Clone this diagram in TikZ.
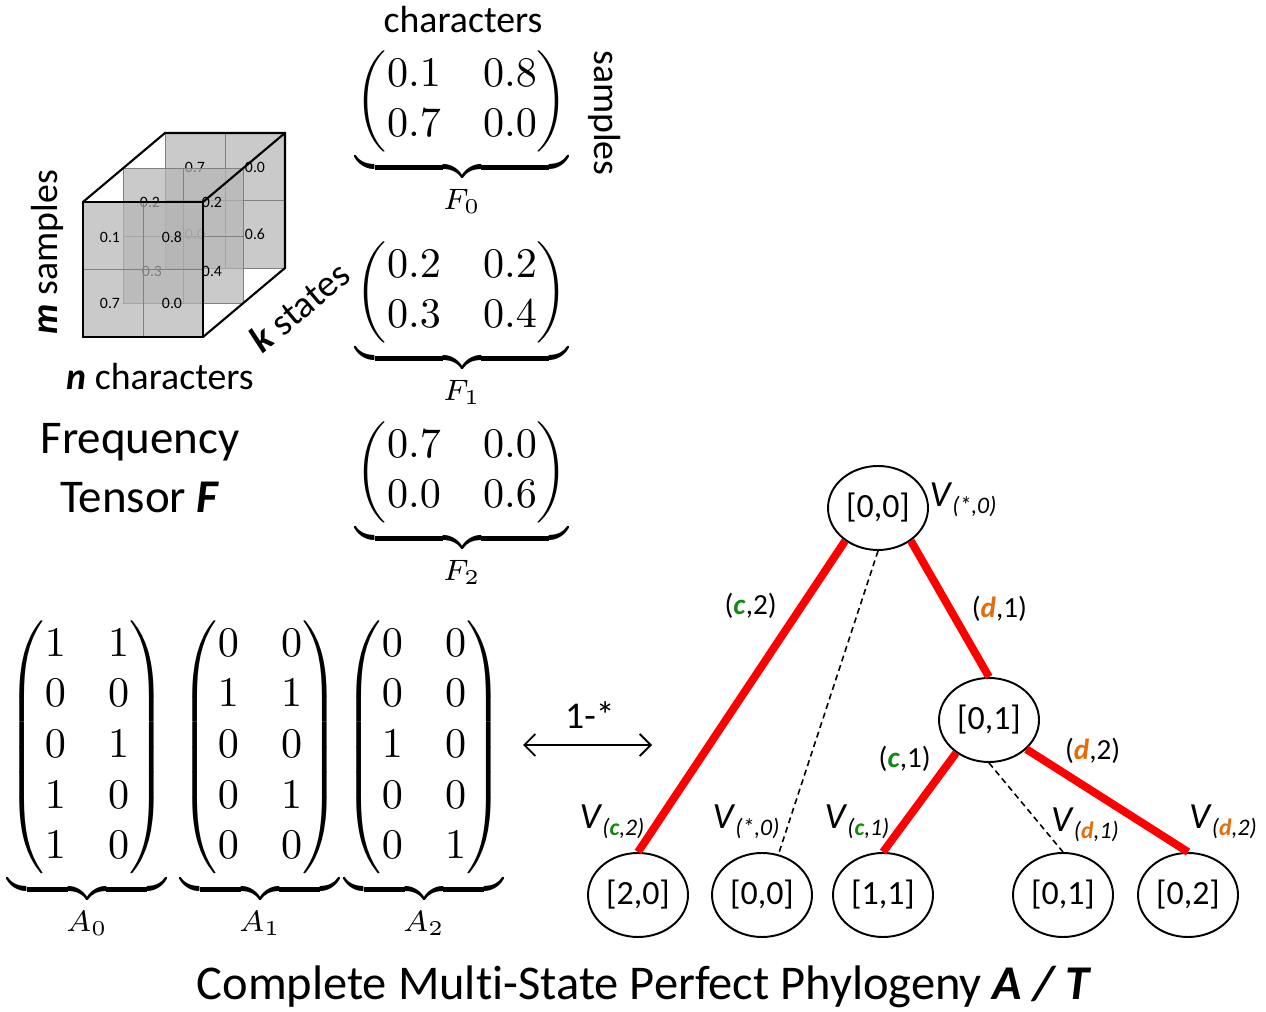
\documentclass[tikz,border=0pt]{standalone}
\usepackage{amsmath}
\usepackage[no-math]{fontspec}
\setmainfont[Ligatures=NoCommon]{Carlito}
\usepackage{tikz}
\usetikzlibrary{arrows.meta,positioning,shapes.geometric}
\definecolor{cgreen}{HTML}{138A13}
\definecolor{dorange}{HTML}{E46C0A}
\definecolor{facegray}{HTML}{B4B4B4}
\newcommand{\fs}[1]{\fontsize{#1}{#1}\selectfont}
\newcommand{\symc}{\textcolor{cgreen}{\textbf{\textit{c}}}}
\newcommand{\symd}{\textcolor{dorange}{\textbf{\textit{d}}}}
\newcommand{\vsub}[1]{\textit{V}\raisebox{-4pt}{\fs{13.5}\itshape(#1)}}

\begin{document}
\begin{tikzpicture}[
    state/.style={draw, ellipse, line width=1.1pt, minimum width=2cm, minimum height=1.68cm, inner sep=0pt, font=\fs{19.3}},
    tree/.style={draw=red, line width=4.5pt},
    skip/.style={draw, line width=0.9pt, dash pattern=on 3.4pt off 2.3pt},
    elab/.style={inner sep=0pt, font=\fs{16.6}},
    vlab/.style={inner sep=0pt, font=\fs{21}},
    mat/.style={scale=2.4, inner sep=0pt},
    face/.style={draw=gray, fill=facegray, fill opacity=0.7, line width=0.5pt},
    cell/.style={draw=gray, line width=0.5pt},
    num/.style={inner sep=0pt, font=\fs{9}},
    wire/.style={draw, line width=1.2pt},
    lbl/.style={inner sep=0pt, font=\fs{21.5}}
]
    \useasboundingbox (0,0) rectangle (25.32,20.24);

    % Tensor cube: back layer F2
    \draw[face] (3.3,14.88) rectangle (5.7,17.58);
    \draw[cell] (4.5,14.88) -- (4.5,17.58) (3.3,16.23) -- (5.7,16.23);
    \node[num] (b11) at (3.9,16.9) {0.7};
    \node[num] (b12) at (5.1,16.9) {0.0};
    \node[num] (b21) at (3.9,15.56) {0.0};
    \node[num] (b22) at (5.1,15.56) {0.6};

    % middle layer F1
    \draw[face] (2.46,14.17) rectangle (4.86,16.87);
    \draw[cell] (3.66,14.17) -- (3.66,16.87) (2.46,15.52) -- (4.86,15.52);
    \node[num] (m11) at (3.0,16.2) {0.2};
    \node[num] (m12) at (4.24,16.2) {0.2};
    \node[num] (m21) at (3.04,14.82) {0.3};
    \node[num] (m22) at (4.24,14.82) {0.4};

    % front layer F0
    \draw[face] (1.66,13.5) rectangle (4.06,16.2);
    \draw[cell] (2.86,13.5) -- (2.86,16.2) (1.66,14.85) -- (4.06,14.85);
    \node[num] (f11) at (2.2,15.5) {0.1};
    \node[num] (f12) at (3.44,15.5) {0.8};
    \node[num] (f21) at (2.2,14.17) {0.7};
    \node[num] (f22) at (3.44,14.17) {0.0};

    % cube edges
    \draw[wire] (1.66,13.5) rectangle (4.06,16.2);
    \draw[wire] (1.66,16.2) -- (3.3,17.58) -- (5.7,17.58) -- (5.7,14.88) -- (4.06,13.5);
    \draw[wire] (4.06,16.2) -- (5.7,17.58);

    % Cube labels
    \node[lbl, rotate=90] (msamp) at (0.94,15.2) {\textbf{\textit{m}} samples};
    \node[lbl] (nchar) at (3.2,12.7) {\textbf{\textit{n}} characters};
    \node[lbl, rotate=40] (kstat) at (5.98,14.1) {\textbf{\textit{k}} states};
    \node[inner sep=0pt, font=\fs{26.7}] (freq) at (2.8,11.4) {Frequency};
    \node[inner sep=0pt, font=\fs{26.7}] (tens) at (2.8,10.3) {Tensor \textbf{\textit{F}}};

    % Frequency matrices
    \node[lbl] (chars) at (9.26,19.84) {characters};
    \node[lbl, rotate=-90] (samps) at (12.1,17.98) {samples};
    \node[mat, anchor=north] (F0) at (9.24,19.24) {$\underbrace{\begin{pmatrix}0.1 & 0.8\\0.7 & 0.0\end{pmatrix}}_{F_0}$};
    \node[mat, anchor=north] (F1) at (9.24,15.42) {$\underbrace{\begin{pmatrix}0.2 & 0.2\\0.3 & 0.4\end{pmatrix}}_{F_1}$};
    \node[mat, anchor=north] (F2) at (9.24,11.82) {$\underbrace{\begin{pmatrix}0.7 & 0.0\\0.0 & 0.6\end{pmatrix}}_{F_2}$};

    % Perfect phylogeny matrices
    \node[mat, anchor=north] (A0) at (1.74,7.84) {$\underbrace{\begin{pmatrix}1&1\\0&0\\0&1\\1&0\\1&0\end{pmatrix}}_{A_0}$};
    \node[mat, anchor=north] (A1) at (5.2,7.84) {$\underbrace{\begin{pmatrix}0&0\\1&1\\0&0\\0&1\\0&0\end{pmatrix}}_{A_1}$};
    \node[mat, anchor=north] (A2) at (8.48,7.84) {$\underbrace{\begin{pmatrix}0&0\\0&0\\1&0\\0&0\\0&1\end{pmatrix}}_{A_2}$};

    % Correspondence
    \node[lbl] (rel) at (11.8,5.94) {1-*};
    \coordinate (arrL) at (10.46,5.34);
    \coordinate (arrR) at (13.04,5.34);
    \draw[{Straight Barb[length=2.2mm,width=4.4mm]}-{Straight Barb[length=2.2mm,width=4.4mm]}, line width=1.1pt] (arrL) -- (arrR);

    % Tree T
    \node[state] (root) at (17.56,10.08) {[0,0]};
    \node[state] (mid) at (19.78,5.84) {[0,1]};
    \node[state] (l20) at (12.76,2.34) {[2,0]};
    \node[state] (l00) at (15.24,2.34) {[0,0]};
    \node[state] (l11) at (17.66,2.34) {[1,1]};
    \node[state] (l01) at (21.26,2.34) {[0,1]};
    \node[state] (l02) at (23.76,2.34) {[0,2]};

    \draw[tree] (root.225) -- node[elab, pos=0.21, left=0.42cm] (e1) {(\symc,2)} (l20.north);
    \draw[tree] (root.315) -- node[elab, pos=0.5, right=0.36cm] (e2) {(\symd,1)} (mid.north);
    \draw[tree] (mid.225) -- node[elab, pos=0.06, left=0.34cm] (e3) {(\symc,1)} (l11.north);
    \draw[tree] (mid.322) -- node[elab, pos=0.41, above=0.48cm] (e4) {(\symd,2)} (l02.north);
    \draw[skip] (root.south) -- (l00.68);
    \draw[skip] (mid.south) -- (l01.north);

    % Vertex sets
    \node[vlab] (vroot) at (19.26,10.24) {\vsub{*,0}};
    \node[vlab] (v20) at (12.24,3.8) {\vsub{\symc,2}};
    \node[vlab] (v00) at (14.92,3.8) {\vsub{*,0}};
    \node[vlab] (v11) at (17.14,3.8) {\vsub{\symc,1}};
    \node[vlab] (v01) at (21.7,3.74) {\vsub{\symd,1}};
    \node[vlab] (v02) at (24.46,3.8) {\vsub{\symd,2}};

    % Caption
    \node[inner sep=0pt, font=\fs{27.6}] (cap) at (12.88,0.5) {Complete Multi-State Perfect Phylogeny \textbf{\textit{A / T}}};
\end{tikzpicture}
\end{document}
